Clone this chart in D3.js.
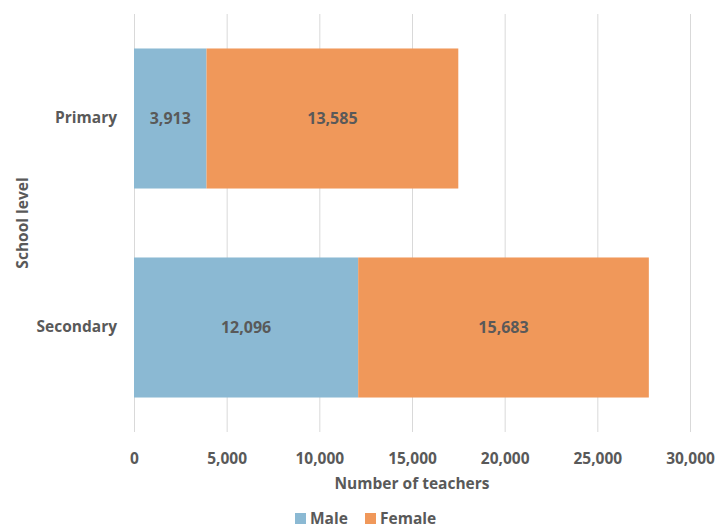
<!DOCTYPE html>
<html>
<head>
<meta charset="utf-8">
<script src="https://cdn.jsdelivr.net/npm/d3@7"></script>
<style>
  body { margin: 0; background: #fff; }
  text { font-family: "Open Sans", sans-serif; font-weight: bold; fill: #595959; }
</style>
</head>
<body>
<svg id="chart" width="727" height="528" viewBox="0 0 727 528"></svg>
<script>
const levels = ["Primary", "Secondary"];
const male = [3913, 12096];
const female = [13585, 15683];
const seriesNames = ["Male", "Female"];
const seriesColors = ["#8bb9d3", "#f0985a"];
const xTicks = [0, 5000, 10000, 15000, 20000, 25000, 30000];

const svg = d3.select("#chart");
const margin = { top: 14, left: 134, right: 37, bottom: 96 };
const width = 727 - margin.left - margin.right;
const height = 528 - margin.top - margin.bottom;

const rows = levels.map((l, i) => ({ level: l, Male: male[i], Female: female[i] }));
const stacked = d3.stack().keys(seriesNames)(rows);

const x = d3.scaleLinear().domain([0, 30000]).range([0, width]);
const y = d3.scaleBand().domain(levels).range([0, height]).paddingInner(0.33).paddingOuter(0.165);
const color = d3.scaleOrdinal().domain(seriesNames).range(seriesColors);
const fmt = d3.format(",");

const g = svg.append("g").attr("transform", `translate(${margin.left},${margin.top})`);

// gridlines
g.append("g")
  .selectAll("line")
  .data(xTicks)
  .enter()
  .append("line")
  .attr("x1", (d) => x(d) + 0.5)
  .attr("x2", (d) => x(d) + 0.5)
  .attr("y1", 0)
  .attr("y2", height)
  .attr("stroke", "#d9d9d9")
  .attr("stroke-width", 1);

// bars
const layers = g.selectAll(".layer")
  .data(stacked)
  .enter()
  .append("g")
  .attr("fill", (d) => color(d.key));

layers.selectAll("rect")
  .data((d) => d)
  .enter()
  .append("rect")
  .attr("x", (d) => x(d[0]))
  .attr("width", (d) => x(d[1]) - x(d[0]))
  .attr("y", (d) => y(d.data.level))
  .attr("height", y.bandwidth());

// value labels
layers.selectAll("text")
  .data((d) => d)
  .enter()
  .append("text")
  .attr("x", (d) => (x(d[0]) + x(d[1])) / 2)
  .attr("y", (d) => y(d.data.level) + y.bandwidth() / 2)
  .attr("dy", "0.35em")
  .attr("text-anchor", "middle")
  .style("font-size", "16px")
  .text((d) => fmt(d[1] - d[0]));

// x axis labels
const xAxis = g.append("g")
  .attr("transform", `translate(0,${height})`)
  .call(d3.axisBottom(x).tickValues(xTicks).tickFormat(fmt).tickSize(0).tickPadding(21));
xAxis.select(".domain").remove();
xAxis.selectAll("text").style("font-size", "15.5px").style("font-family", null).attr("fill", null);

// y axis labels
const yAxis = g.append("g")
  .call(d3.axisLeft(y).tickSize(0).tickPadding(17));
yAxis.select(".domain").remove();
yAxis.selectAll("text").style("font-size", "15.5px").style("font-family", null).attr("fill", null);

// axis titles
svg.append("text")
  .attr("x", margin.left + x(15000))
  .attr("y", 489)
  .attr("text-anchor", "middle")
  .style("font-size", "15.5px")
  .text("Number of teachers");

svg.append("text")
  .attr("transform", `translate(28,${margin.top + height / 2}) rotate(-90)`)
  .attr("text-anchor", "middle")
  .style("font-size", "15.5px")
  .text("School level");

// legend
const legend = svg.append("g").attr("transform", "translate(295,512)");
const items = legend.selectAll("g")
  .data(seriesNames)
  .enter()
  .append("g")
  .attr("transform", (d, i) => `translate(${i * 70},0)`);
items.append("rect")
  .attr("width", 11)
  .attr("height", 11)
  .attr("y", 1)
  .attr("fill", (d) => color(d));
items.append("text")
  .attr("x", 15)
  .attr("y", 12)
  .style("font-size", "15.5px")
  .text((d) => d);
</script>
</body>
</html>
